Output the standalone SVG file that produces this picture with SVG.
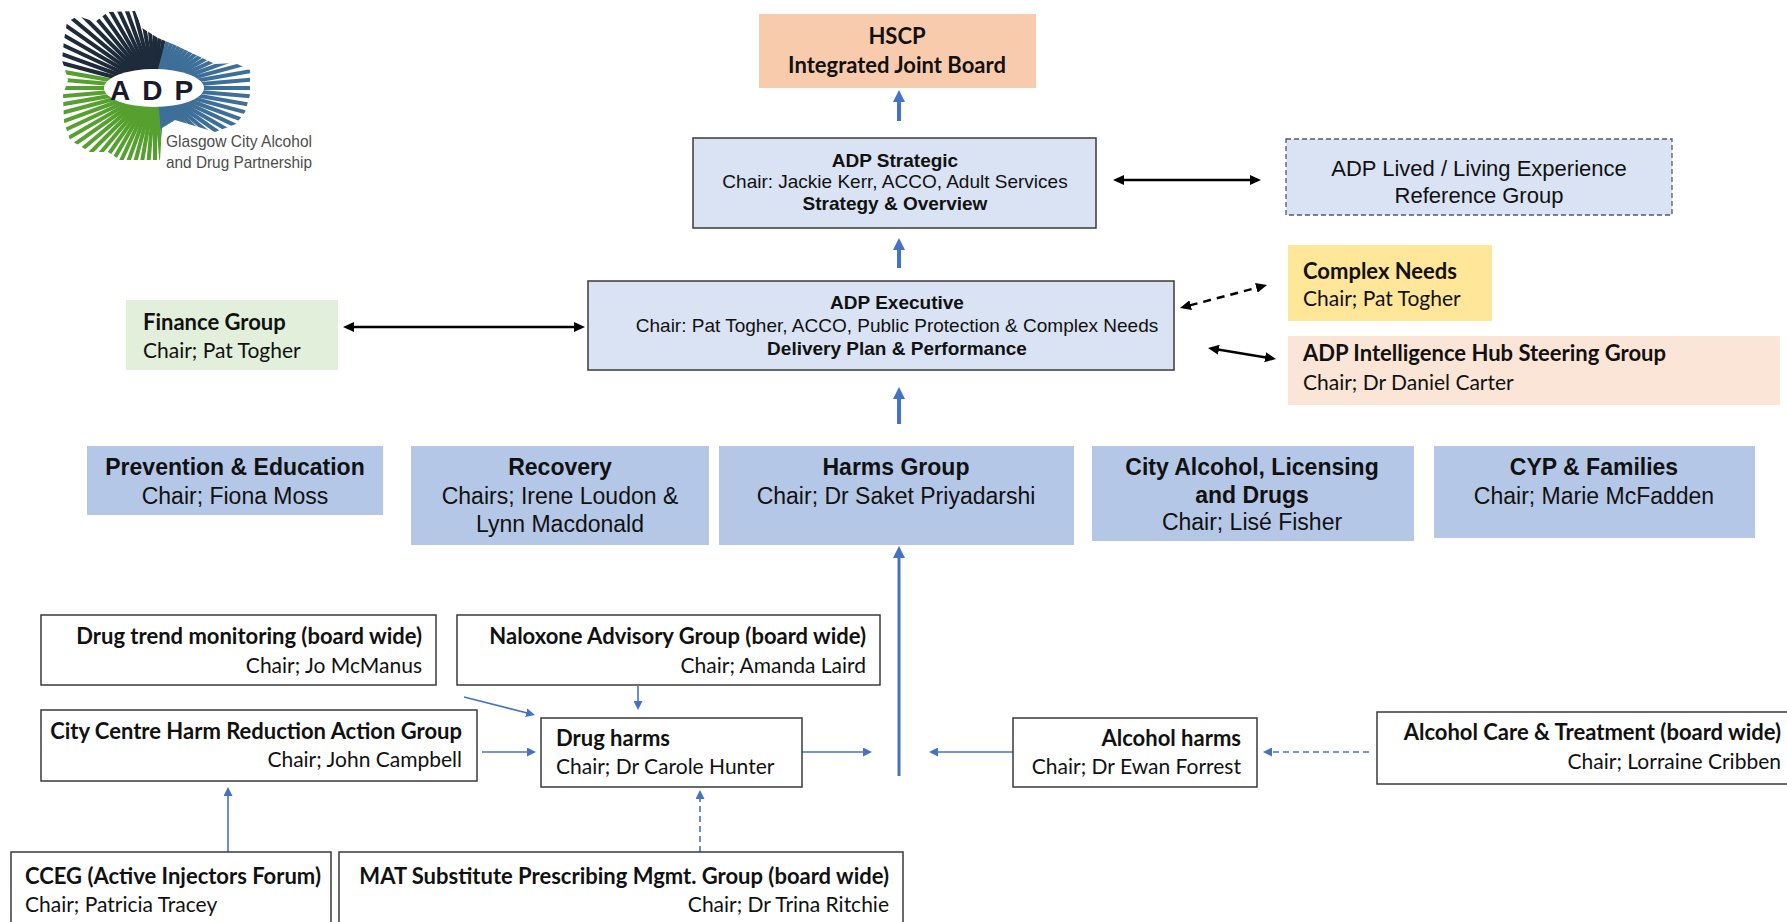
<svg xmlns="http://www.w3.org/2000/svg" xmlns:xlink="http://www.w3.org/1999/xlink" width="1787" height="922" viewBox="0 0 1787 922">
<style>
.cal{font-family:Lato,"Noto Sans","Liberation Sans",sans-serif;font-size:21px;fill:#111}
.ar{font-family:"Liberation Sans",Arial,sans-serif;fill:#111}
.b{font-weight:700}
.cal.b{font-size:22px}
.mid{text-anchor:middle}
.end{text-anchor:end}
.f19{font-size:19px}
.f23{font-size:23px}
.frame{stroke:#3a3a3a;stroke-width:1.5}
.wbox{fill:#fff;stroke:#3a3a3a;stroke-width:1.5}
.midbox{fill:#b4c7e7}
.cbt{stroke:#4472c4;stroke-width:4;fill:none}
.cbk{stroke:#000;stroke-width:2.5;fill:none}
.cbs{stroke:#4472c4;stroke-width:1.6;fill:none}
.dash{stroke-dasharray:6 4}
.dashk{stroke-dasharray:8 6}
</style>
<defs>
<marker id="mBlueL" markerUnits="userSpaceOnUse" markerWidth="12" markerHeight="12" refX="1" refY="6" orient="auto-start-reverse"><path d="M0,0 L12,6 L0,12 z" fill="#4472c4"/></marker>
<marker id="mBlk" markerUnits="userSpaceOnUse" markerWidth="11" markerHeight="10" refX="1" refY="5" orient="auto-start-reverse"><path d="M0,0 L11,5 L0,10 z" fill="#000"/></marker>
<marker id="mBlueS" markerUnits="userSpaceOnUse" markerWidth="9" markerHeight="9" refX="1" refY="4.5" orient="auto-start-reverse"><path d="M0,0 L9,4.5 L0,9 z" fill="#4472c4"/></marker>
<clipPath id="logoClip"><polygon points="67,22 78,16 95,22 108,12 135,11 142,28 158,38 175,45 198,56 215,64 235,63 250,70 250,95 245,112 236,124 215,132 195,126 175,120 162,128 160,160 120,160 108,152 90,152 70,140 64,122 63,95 68,80 62,60 64,40"/></clipPath>
<line id="ray" x1="155" y1="88" x2="285" y2="88"/>
</defs>
<rect width="1787" height="922" fill="#fff"/>

<g id="logo">
<g clip-path="url(#logoClip)" stroke-width="4">
<g stroke="#1d2b3a">
<use xlink:href="#ray" transform="rotate(195 155 88)"/><use xlink:href="#ray" transform="rotate(200 155 88)"/><use xlink:href="#ray" transform="rotate(205 155 88)"/><use xlink:href="#ray" transform="rotate(210 155 88)"/><use xlink:href="#ray" transform="rotate(215 155 88)"/><use xlink:href="#ray" transform="rotate(220 155 88)"/><use xlink:href="#ray" transform="rotate(225 155 88)"/><use xlink:href="#ray" transform="rotate(230 155 88)"/><use xlink:href="#ray" transform="rotate(235 155 88)"/><use xlink:href="#ray" transform="rotate(240 155 88)"/><use xlink:href="#ray" transform="rotate(245 155 88)"/><use xlink:href="#ray" transform="rotate(250 155 88)"/><use xlink:href="#ray" transform="rotate(255 155 88)"/><use xlink:href="#ray" transform="rotate(260 155 88)"/><use xlink:href="#ray" transform="rotate(265 155 88)"/><use xlink:href="#ray" transform="rotate(270 155 88)"/><use xlink:href="#ray" transform="rotate(275 155 88)"/><use xlink:href="#ray" transform="rotate(280 155 88)"/>
</g>
<g stroke="#3d6f99">
<use xlink:href="#ray" transform="rotate(285 155 88)"/><use xlink:href="#ray" transform="rotate(290 155 88)"/><use xlink:href="#ray" transform="rotate(295 155 88)"/><use xlink:href="#ray" transform="rotate(300 155 88)"/><use xlink:href="#ray" transform="rotate(305 155 88)"/><use xlink:href="#ray" transform="rotate(310 155 88)"/><use xlink:href="#ray" transform="rotate(315 155 88)"/><use xlink:href="#ray" transform="rotate(320 155 88)"/><use xlink:href="#ray" transform="rotate(325 155 88)"/><use xlink:href="#ray" transform="rotate(330 155 88)"/><use xlink:href="#ray" transform="rotate(335 155 88)"/><use xlink:href="#ray" transform="rotate(340 155 88)"/><use xlink:href="#ray" transform="rotate(345 155 88)"/><use xlink:href="#ray" transform="rotate(350 155 88)"/><use xlink:href="#ray" transform="rotate(355 155 88)"/><use xlink:href="#ray"/><use xlink:href="#ray" transform="rotate(5 155 88)"/><use xlink:href="#ray" transform="rotate(10 155 88)"/><use xlink:href="#ray" transform="rotate(15 155 88)"/><use xlink:href="#ray" transform="rotate(20 155 88)"/><use xlink:href="#ray" transform="rotate(25 155 88)"/><use xlink:href="#ray" transform="rotate(30 155 88)"/><use xlink:href="#ray" transform="rotate(35 155 88)"/><use xlink:href="#ray" transform="rotate(40 155 88)"/><use xlink:href="#ray" transform="rotate(45 155 88)"/><use xlink:href="#ray" transform="rotate(50 155 88)"/><use xlink:href="#ray" transform="rotate(55 155 88)"/><use xlink:href="#ray" transform="rotate(60 155 88)"/><use xlink:href="#ray" transform="rotate(65 155 88)"/><use xlink:href="#ray" transform="rotate(70 155 88)"/><use xlink:href="#ray" transform="rotate(75 155 88)"/><use xlink:href="#ray" transform="rotate(80 155 88)"/>
</g>
<g stroke="#56a02f">
<use xlink:href="#ray" transform="rotate(85 155 88)"/><use xlink:href="#ray" transform="rotate(90 155 88)"/><use xlink:href="#ray" transform="rotate(95 155 88)"/><use xlink:href="#ray" transform="rotate(100 155 88)"/><use xlink:href="#ray" transform="rotate(105 155 88)"/><use xlink:href="#ray" transform="rotate(110 155 88)"/><use xlink:href="#ray" transform="rotate(115 155 88)"/><use xlink:href="#ray" transform="rotate(120 155 88)"/><use xlink:href="#ray" transform="rotate(125 155 88)"/><use xlink:href="#ray" transform="rotate(130 155 88)"/><use xlink:href="#ray" transform="rotate(135 155 88)"/><use xlink:href="#ray" transform="rotate(140 155 88)"/><use xlink:href="#ray" transform="rotate(145 155 88)"/><use xlink:href="#ray" transform="rotate(150 155 88)"/><use xlink:href="#ray" transform="rotate(155 155 88)"/><use xlink:href="#ray" transform="rotate(160 155 88)"/><use xlink:href="#ray" transform="rotate(165 155 88)"/><use xlink:href="#ray" transform="rotate(170 155 88)"/><use xlink:href="#ray" transform="rotate(175 155 88)"/><use xlink:href="#ray" transform="rotate(180 155 88)"/><use xlink:href="#ray" transform="rotate(185 155 88)"/><use xlink:href="#ray" transform="rotate(190 155 88)"/>
</g>
</g>
<ellipse cx="154" cy="88" rx="50" ry="19" fill="#fff"/>
<text x="110" y="100" font-family="Liberation Sans, Arial, sans-serif" font-weight="700" font-size="28" letter-spacing="12" fill="#1a1a2e">ADP</text>
<text x="166" y="147" font-family="Liberation Sans, Arial, sans-serif" font-size="17" fill="#4d4d4d" textLength="146" lengthAdjust="spacingAndGlyphs">Glasgow City Alcohol</text>
<text x="166" y="168" font-family="Liberation Sans, Arial, sans-serif" font-size="17" fill="#4d4d4d" textLength="146" lengthAdjust="spacingAndGlyphs">and Drug Partnership</text>
</g>

<g id="connectors">
<line class="cbt" x1="899" y1="121" x2="899" y2="101" marker-end="url(#mBlueL)"/>
<line class="cbt" x1="899" y1="268" x2="899" y2="249" marker-end="url(#mBlueL)"/>
<line class="cbt" x1="899" y1="424" x2="899" y2="398" marker-end="url(#mBlueL)"/>
<line class="cbk" x1="1123" y1="180" x2="1251" y2="180" marker-start="url(#mBlk)" marker-end="url(#mBlk)"/>
<line class="cbk" x1="353" y1="327" x2="575" y2="327" marker-start="url(#mBlk)" marker-end="url(#mBlk)"/>
<line class="cbk dashk" x1="1189.7" y1="305.4" x2="1257.3" y2="287.6" marker-start="url(#mBlk)" marker-end="url(#mBlk)"/>
<line class="cbk" x1="1217.9" y1="349.6" x2="1266.1" y2="357.4" marker-start="url(#mBlk)" marker-end="url(#mBlk)"/>
<line stroke="#4472c4" stroke-width="3" x1="899" y1="776" x2="899" y2="557" marker-end="url(#mBlueL)"/>
<line class="cbs" x1="464" y1="697" x2="527.2" y2="713" marker-end="url(#mBlueS)"/>
<line class="cbs" x1="638" y1="686" x2="638" y2="702" marker-end="url(#mBlueS)"/>
<line class="cbs" x1="482" y1="752" x2="528" y2="752" marker-end="url(#mBlueS)"/>
<line class="cbs" x1="228" y1="852" x2="228" y2="795" marker-end="url(#mBlueS)"/>
<line class="cbs dash" x1="700" y1="852" x2="700" y2="798" marker-end="url(#mBlueS)"/>
<line class="cbs" x1="802" y1="752" x2="864" y2="752" marker-end="url(#mBlueS)"/>
<line class="cbs" x1="1013" y1="752" x2="937" y2="752" marker-end="url(#mBlueS)"/>
<line class="cbs dash" x1="1369" y1="752" x2="1271" y2="752" marker-end="url(#mBlueS)"/>
</g>

<g id="hscp">
<rect x="759" y="14" width="277" height="74" fill="#f8cbad"/>
<text class="cal b mid" x="897" y="44">HSCP</text>
<text class="cal b mid" x="897" y="73">Integrated Joint Board</text>
</g>

<g id="adp-strategic">
<rect class="frame" x="693" y="138" width="403" height="90" fill="#dae3f3"/>
<text class="ar f19 b mid" x="895" y="167">ADP  Strategic</text>
<text class="ar f19 mid" x="895" y="188">Chair: Jackie Kerr, ACCO, Adult Services</text>
<text class="ar f19 b mid" x="895" y="210">Strategy &amp; Overview</text>
</g>

<g id="lived-experience">
<rect x="1286" y="139" width="386" height="76" fill="#dae3f3" stroke="#4f5b6b" stroke-width="1.3" stroke-dasharray="5 3"/>
<text class="ar mid" x="1479" y="176" font-size="22" fill="#333">ADP Lived / Living Experience</text>
<text class="ar mid" x="1479" y="203" font-size="22" fill="#333">Reference  Group</text>
</g>

<g id="adp-executive">
<rect class="frame" x="588" y="281" width="586" height="89" fill="#dae3f3"/>
<text class="ar f19 b mid" x="897" y="309">ADP Executive</text>
<text class="ar f19 mid" x="897" y="332">Chair: Pat Togher,  ACCO, Public Protection &amp; Complex  Needs</text>
<text class="ar f19 b mid" x="897" y="355">Delivery Plan &amp; Performance</text>
</g>

<g id="finance-group">
<rect x="126" y="300" width="212" height="70" fill="#e2efda"/>
<text class="cal b" x="143" y="330">Finance Group</text>
<text class="cal" x="143" y="358">Chair; Pat Togher</text>
</g>

<g id="complex-needs">
<rect x="1288" y="245" width="204" height="76" fill="#ffe699"/>
<text class="cal b" x="1303" y="279">Complex Needs</text>
<text class="cal" x="1303" y="306">Chair; Pat Togher</text>
</g>

<g id="intelligence-hub">
<rect x="1288" y="336" width="492" height="69" fill="#fbe5d6"/>
<text class="cal b" x="1303" y="361">ADP Intelligence Hub Steering Group</text>
<text class="cal" x="1303" y="390">Chair; Dr Daniel Carter</text>
</g>

<g id="prevention">
<rect class="midbox" x="87" y="446" width="296" height="69"/>
<text class="ar f23 b mid" x="235" y="475">Prevention &amp; Education</text>
<text class="ar f23 mid" x="235" y="504">Chair; Fiona Moss</text>
</g>

<g id="recovery">
<rect class="midbox" x="411" y="446" width="298" height="99"/>
<text class="ar f23 b mid" x="560" y="475">Recovery</text>
<text class="ar f23 mid" x="560" y="504">Chairs; Irene  Loudon &amp;</text>
<text class="ar f23 mid" x="560" y="532">Lynn  Macdonald</text>
</g>

<g id="harms-group">
<rect class="midbox" x="719" y="446" width="355" height="99"/>
<text class="ar f23 b mid" x="896" y="475">Harms Group</text>
<text class="ar f23 mid" x="896" y="504">Chair; Dr Saket Priyadarshi</text>
</g>

<g id="city-alcohol">
<rect class="midbox" x="1092" y="446" width="322" height="95"/>
<text class="ar f23 b mid" x="1252" y="475">City Alcohol, Licensing</text>
<text class="ar f23 b mid" x="1252" y="503">and Drugs</text>
<text class="ar f23 mid" x="1252" y="530">Chair; Lisé Fisher</text>
</g>

<g id="cyp-families">
<rect class="midbox" x="1434" y="446" width="321" height="92"/>
<text class="ar f23 b mid" x="1594" y="475">CYP &amp; Families</text>
<text class="ar f23 mid" x="1594" y="504">Chair; Marie McFadden</text>
</g>

<g id="drug-trend">
<rect class="wbox" x="41" y="615" width="395" height="70"/>
<text class="cal b end" x="422" y="644">Drug trend monitoring (board wide)</text>
<text class="cal end" x="422" y="673">Chair; Jo McManus</text>
</g>

<g id="naloxone">
<rect class="wbox" x="457" y="615" width="423" height="70"/>
<text class="cal b end" x="866" y="644">Naloxone Advisory Group (board wide)</text>
<text class="cal end" x="866" y="673">Chair; Amanda Laird</text>
</g>

<g id="city-centre-harm">
<rect class="wbox" x="41" y="710" width="436" height="71"/>
<text class="cal b end" x="462" y="739">City Centre Harm Reduction Action Group</text>
<text class="cal end" x="462" y="767">Chair; John  Campbell</text>
</g>

<g id="drug-harms">
<rect class="wbox" x="541" y="718" width="261" height="69"/>
<text class="cal b" x="556" y="746">Drug harms</text>
<text class="cal" x="556" y="774">Chair; Dr Carole Hunter</text>
</g>

<g id="alcohol-harms">
<rect class="wbox" x="1013" y="718" width="244" height="69"/>
<text class="cal b end" x="1241" y="746">Alcohol harms</text>
<text class="cal end" x="1241" y="774">Chair; Dr Ewan Forrest</text>
</g>

<g id="alcohol-care">
<rect class="wbox" x="1377" y="712" width="420" height="72"/>
<text class="cal b end" x="1781" y="740">Alcohol Care &amp; Treatment (board wide)</text>
<text class="cal end" x="1781" y="769">Chair; Lorraine Cribben</text>
</g>

<g id="cceg">
<rect class="wbox" x="11" y="852" width="320" height="80"/>
<text class="cal b" x="25" y="884">CCEG (Active Injectors Forum)</text>
<text class="cal" x="25" y="912">Chair; Patricia Tracey</text>
</g>

<g id="mat">
<rect class="wbox" x="339" y="852" width="564" height="80"/>
<text class="cal b end" x="889" y="884">MAT Substitute Prescribing Mgmt. Group (board wide)</text>
<text class="cal end" x="889" y="912">Chair; Dr Trina Ritchie</text>
</g>
</svg>
